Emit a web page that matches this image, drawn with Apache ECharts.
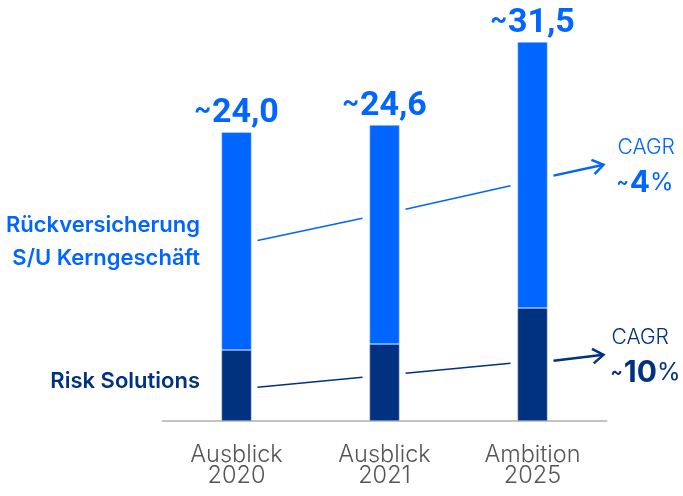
<!DOCTYPE html>
<html>
<head>
<meta charset="utf-8">
<script src="https://cdn.jsdelivr.net/npm/echarts@6/dist/echarts.min.js"></script>
<style>
  html, body { margin: 0; padding: 0; background: #fff; }
  #chart { width: 683px; height: 496px; }
</style>
</head>
<body>
<div id="chart"></div>
<script>
// Segments in bn: Risk Solutions below, core reinsurance business on top
const categories = ['Ausblick\n2020', 'Ausblick\n2021', 'Ambition\n2025'];
const riskSolutions = [5.9, 6.4, 9.4];
const coreReinsurance = [18.1, 18.2, 22.1];
const totals = [24.0, 24.6, 31.5];
const totalLabels = ['~24,0', '~24,6', '~31,5'];
const cagrCore = '4%';
const cagrRisk = '10%';

const BLUE = '#0066ff';
const NAVY = '#00327f';
const FONT = 'Roboto, "Liberation Sans", sans-serif';
const TEXT_FONT = 'Inter, Roboto, sans-serif';
const BAR_W = 30;

// Trend connectors, in value units at the left/right end of each gap
const coreTrend = [[15.0, 16.85], [17.6, 19.55], [20.4, 21.3]];
const riskTrend = [[2.8, 3.63], [3.97, 4.8], [5.0, 5.5]];

const chart = echarts.init(document.getElementById('chart'), null, { renderer: 'canvas' });

chart.setOption({
  animation: false,
  backgroundColor: '#fff',
  grid: { left: 162.5, right: 76.5, top: 12, bottom: 75, containLabel: false },
  xAxis: {
    type: 'category',
    data: categories,
    axisLine: { show: true, lineStyle: { color: '#c3c3c3', width: 2 } },
    axisTick: { show: false },
    axisLabel: {
      color: '#555', fontFamily: TEXT_FONT, fontWeight: 300, fontSize: 23.5, lineHeight: 21, margin: 23
    }
  },
  yAxis: {
    type: 'value', min: 0, max: 34,
    show: false, splitLine: { show: false }
  },
  series: [
    {
      name: 'Risk Solutions', type: 'bar', stack: 'total', barWidth: BAR_W,
      data: riskSolutions,
      itemStyle: { color: NAVY, borderColor: '#c9d6ee', borderWidth: 0.5 }
    },
    {
      name: 'Rückversicherung S/U Kerngeschäft', type: 'bar', stack: 'total', barWidth: BAR_W,
      data: coreReinsurance,
      itemStyle: { color: BLUE, borderColor: '#cfe0ff', borderWidth: 0.5 },
      label: {
        show: true, position: 'top', distance: 2,
        formatter: p => '{t|~}{n|' + totalLabels[p.dataIndex].slice(1) + '}',
        rich: {
          t: { color: BLUE, fontFamily: FONT, fontWeight: 'bold', fontSize: 26, padding: [0, 1, 4, 0] },
          n: { color: BLUE, fontFamily: FONT, fontWeight: 'bold', fontSize: 34 }
        }
      }
    }
  ]
});

// Trend lines and arrows drawn between the bars
function px(i, v) { return chart.convertToPixel({ gridIndex: 0 }, [i, v]); }

const graphics = [];
function trend(anchors, color, lw, arrowLw) {
  for (let k = 0; k < 3; k++) {
    const a = px(k, anchors[k][0]);
    let x1 = a[0] + BAR_W / 2 + 6;
    let x2;
    if (k < 2) {
      x2 = px(k + 1, 0)[0] - BAR_W / 2 - 7;
    } else {
      x2 = a[0] + BAR_W / 2 + 56;
    }
    const y1 = a[1];
    const y2 = px(k, anchors[k][1])[1];
    graphics.push({
      type: 'line', silent: true,
      shape: { x1: x1, y1: y1, x2: x2, y2: y2 },
      style: { stroke: color, lineWidth: k < 2 ? lw : arrowLw }
    });
    if (k === 2) {
      const ang = Math.atan2(y2 - y1, x2 - x1);
      const L = 13, spread = 0.6;
      graphics.push({
        type: 'polyline', silent: true,
        shape: { points: [
          [x2 - L * Math.cos(ang - spread), y2 - L * Math.sin(ang - spread)],
          [x2, y2],
          [x2 - L * Math.cos(ang + spread), y2 - L * Math.sin(ang + spread)]
        ] },
        style: { stroke: color, lineWidth: arrowLw, fill: null, lineJoin: 'miter' }
      });
      graphics.push({ tip: [x2, y2] });
    }
  }
}
trend(coreTrend, BLUE, 1.5, 2.5);
trend(riskTrend, NAVY, 1.5, 2.5);

const tips = graphics.filter(g => g.tip).map(g => g.tip);
const shapes = graphics.filter(g => !g.tip);

function cagrText(tip, dx, dy, color, value) {
  return [
    {
      type: 'text', silent: true, x: tip[0] + dx, y: tip[1] + dy,
      style: { text: 'CAGR', fill: color, font: '300 21px ' + TEXT_FONT, textAlign: 'left', textVerticalAlign: 'bottom' }
    },
    {
      type: 'text', silent: true, x: tip[0] + dx - 1, y: tip[1] + dy + 10,
      style: {
        text: '{t|~}{b|' + value.slice(0, -1) + '}{p|%}',
        textAlign: 'left', textVerticalAlign: 'top',
        rich: {
          t: { fill: color, font: 'bold 18px ' + TEXT_FONT, padding: [0, 1, 0, 0] },
          b: { fill: color, font: 'bold 30px ' + TEXT_FONT },
          p: { fill: color, font: '24px ' + TEXT_FONT }
        }
      }
    }
  ];
}

const texts = [
  {
    type: 'text', silent: true, right: 683 - 200, top: 209,
    style: {
      text: 'Rückversicherung\nS/U Kerngeschäft', fill: BLUE,
      font: '600 22px ' + TEXT_FONT, textAlign: 'right', lineHeight: 33
    }
  },
  {
    type: 'text', silent: true, right: 683 - 200, top: 370,
    style: { text: 'Risk Solutions', fill: NAVY, font: '600 22px ' + TEXT_FONT, textAlign: 'right' }
  }
].concat(cagrText(tips[0], 14, -7, BLUE, cagrCore))
 .concat(cagrText(tips[1], 8, -7, NAVY, cagrRisk));

chart.setOption({ graphic: shapes.concat(texts) });
</script>
</body>
</html>
